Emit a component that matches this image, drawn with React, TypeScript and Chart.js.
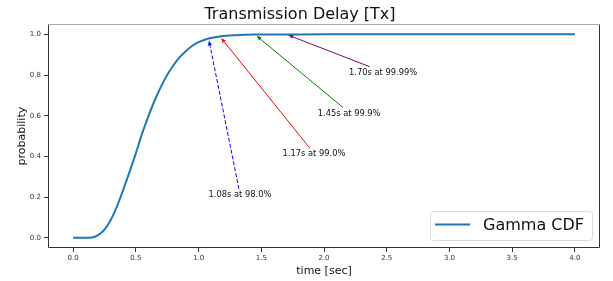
import React, { useEffect, useRef } from 'react';
import { Chart, registerables } from 'chart.js';

Chart.register(...registerables);

const chartTitle = 'Transmission Delay [Tx]';
const seriesLabel = 'Gamma CDF';
const xTitle = 'time [sec]';
const yTitle = 'probability';

const timeSec = [0, 0.1, 0.15, 0.2, 0.25, 0.3, 0.35, 0.4, 0.45, 0.5, 0.55, 0.6, 0.65, 0.7, 0.75, 0.8, 0.85, 0.9, 0.95, 1.0, 1.08, 1.17, 1.3, 1.45, 1.7, 2.0, 2.5, 3.0, 3.5, 4.0];
const gammaCdf = [0, 0, 0.002, 0.013, 0.04, 0.088, 0.155, 0.237, 0.324, 0.415, 0.512, 0.597, 0.675, 0.742, 0.8, 0.848, 0.888, 0.918, 0.944, 0.962, 0.98, 0.99, 0.996, 0.999, 0.9999, 1, 1, 1, 1, 1];

const xTicks = [0, 0.5, 1.0, 1.5, 2.0, 2.5, 3.0, 3.5, 4.0];
const yTicks = [0, 0.2, 0.4, 0.6, 0.8, 1.0];

const annoLabels = ['1.08s at 98.0%', '1.17s at 99.0%', '1.45s at 99.9%', '1.70s at 99.99%'];
const annoX = [1.08, 1.17, 1.45, 1.7];
const annoY = [0.98, 0.99, 0.999, 0.9999];
const annoTextX = [1.08, 1.67, 1.95, 2.2];
const annoTextY = [0.2, 0.4, 0.6, 0.8];
const annoColors = ['#0000ff', '#ff0000', '#008000', '#800080'];
const annoDashed = [true, false, false, false];

const FONT = '"DejaVu Sans", sans-serif';

const extras = {
  id: 'extras',
  afterDatasetsDraw(chart: any) {
    const { ctx, chartArea: a, scales } = chart;
    const x = scales.x;
    const y = scales.y;
    ctx.save();
    const fs = 8.3;
    ctx.font = `${fs}px ${FONT}`;
    for (let i = 0; i < annoLabels.length; i++) {
      const label = annoLabels[i];
      const tx = x.getPixelForValue(annoTextX[i]);
      const ty = y.getPixelForValue(annoTextY[i]);
      ctx.fillStyle = '#111';
      ctx.textAlign = 'left';
      ctx.textBaseline = 'alphabetic';
      ctx.fillText(label, tx, ty);
      const w = ctx.measureText(label).width;
      const bx0 = tx - 1, bx1 = tx + w + 1, by0 = ty - fs * 0.76 - 2, by1 = ty + 2;
      const cx = (bx0 + bx1) / 2, cy = (by0 + by1) / 2;
      const px = x.getPixelForValue(annoX[i]);
      const py = y.getPixelForValue(annoY[i]);
      const dx = px - cx, dy = py - cy;
      let t = Infinity;
      if (dx !== 0) t = Math.min(t, ((dx > 0 ? bx1 : bx0) - cx) / dx);
      if (dy !== 0) t = Math.min(t, ((dy > 0 ? by1 : by0) - cy) / dy);
      const sx = cx + dx * t, sy = cy + dy * t;
      const len = Math.hypot(px - sx, py - sy);
      const ux = (px - sx) / len, uy = (py - sy) / len;
      const tipx = px - ux * 2, tipy = py - uy * 2;
      const hl = 5, hw = 2;
      const bx = tipx - ux * hl, by = tipy - uy * hl;
      ctx.strokeStyle = annoColors[i];
      ctx.fillStyle = annoColors[i];
      ctx.lineWidth = 1;
      ctx.setLineDash(annoDashed[i] ? [4, 2] : []);
      ctx.beginPath();
      ctx.moveTo(sx, sy);
      ctx.lineTo(bx, by);
      ctx.stroke();
      ctx.setLineDash([]);
      ctx.beginPath();
      ctx.moveTo(tipx, tipy);
      ctx.lineTo(bx - uy * hw, by + ux * hw);
      ctx.lineTo(bx + uy * hw, by - ux * hw);
      ctx.closePath();
      ctx.fill();
    }

    // frame
    const l = Math.round(a.left) + 0.5, r = Math.round(a.right) - 0.5;
    const tp = Math.round(a.top) + 0.5, b = Math.round(a.bottom) - 0.5;
    ctx.lineWidth = 1;
    ctx.strokeStyle = '#333';
    ctx.beginPath();
    ctx.moveTo(l, tp); ctx.lineTo(l, b); ctx.lineTo(r, b); ctx.lineTo(r, tp);
    ctx.stroke();
    ctx.strokeStyle = '#aaa';
    ctx.beginPath();
    ctx.moveTo(l, tp); ctx.lineTo(r, tp);
    ctx.stroke();

    // legend
    ctx.font = `16px ${FONT}`;
    const label = chart.data.datasets[0].label;
    const tw = ctx.measureText(label).width;
    const boxW = 5 + 35 + 13 + tw + 8;
    const boxH = 29;
    const bxr = a.right - 8;
    const bxl = bxr - boxW;
    const byb = a.bottom - 8;
    const byt = byb - boxH;
    ctx.fillStyle = 'rgba(255,255,255,0.8)';
    ctx.strokeStyle = '#d9d9d9';
    ctx.beginPath();
    (ctx as any).roundRect(bxl + 0.5, byt + 0.5, boxW, boxH, 3);
    ctx.fill();
    ctx.stroke();
    const ly = byt + boxH / 2 - 1;
    ctx.strokeStyle = '#1f77b4';
    ctx.lineWidth = 2;
    ctx.beginPath();
    ctx.moveTo(bxl + 5, ly);
    ctx.lineTo(bxl + 40, ly);
    ctx.stroke();
    ctx.fillStyle = '#111';
    ctx.textAlign = 'left';
    ctx.textBaseline = 'middle';
    ctx.fillText(label, bxl + 53, ly + 1);
    ctx.restore();
  },
};

export default function App() {
  const ref = useRef<HTMLCanvasElement>(null);
  useEffect(() => {
    document.body.style.margin = '0';
    const canvas = ref.current!;
    const chart = new Chart(canvas, {
      type: 'line',
      data: {
        datasets: [
          {
            label: seriesLabel,
            data: timeSec.map((t, i) => ({ x: t, y: gammaCdf[i] })),
            borderColor: '#1f77b4',
            backgroundColor: '#1f77b4',
            borderWidth: 2,
            pointRadius: 0,
            cubicInterpolationMode: 'monotone',
            fill: false,
          },
        ],
      },
      options: {
        responsive: false,
        animation: false,
        events: [],
        layout: { padding: { left: 0, right: 13, top: 0, bottom: 0 } },
        plugins: {
          legend: { display: false },
          tooltip: { enabled: false },
          title: {
            display: true,
            text: chartTitle,
            color: '#111',
            font: { family: FONT, size: 16, weight: 'normal' },
            padding: { top: 5, bottom: 0 },
          },
        },
        scales: {
          x: {
            type: 'linear',
            min: -0.2,
            max: 4.2,
            afterBuildTicks: (s: any) => {
              s.ticks = xTicks.map((v) => ({ value: v }));
            },
            afterFit: (s: any) => {
              s.height = 33;
            },
            ticks: {
              color: '#333',
              font: { family: FONT, size: 7 },
              padding: 2,
              maxRotation: 0,
              autoSkip: false,
              callback: (v: any) => Number(v).toFixed(1),
            },
            grid: { drawOnChartArea: false, drawTicks: true, tickLength: 4, color: '#333' },
            border: { display: false },
            title: {
              display: true,
              text: xTitle,
              color: '#111',
              font: { family: FONT, size: 11 },
              padding: { top: 0, bottom: 3.5 },
            },
          },
          y: {
            type: 'linear',
            min: -0.05,
            max: 1.05,
            afterBuildTicks: (s: any) => {
              s.ticks = yTicks.map((v) => ({ value: v }));
            },
            afterFit: (s: any) => {
              s.width = 48;
            },
            ticks: {
              color: '#333',
              font: { family: FONT, size: 7 },
              padding: 3,
              autoSkip: false,
              callback: (v: any) => Number(v).toFixed(1),
            },
            grid: { drawOnChartArea: false, drawTicks: true, tickLength: 4, color: '#333' },
            border: { display: false },
            title: {
              display: true,
              text: yTitle,
              color: '#111',
              font: { family: FONT, size: 11 },
              padding: { top: 15.5, bottom: 0 },
            },
          },
        },
      } as any,
      plugins: [extras],
    });
    return () => chart.destroy();
  }, []);
  return (
    <div style={{ width: 613, height: 281 }}>
      <canvas ref={ref} width={613} height={281} style={{ display: 'block' }} />
    </div>
  );
}
